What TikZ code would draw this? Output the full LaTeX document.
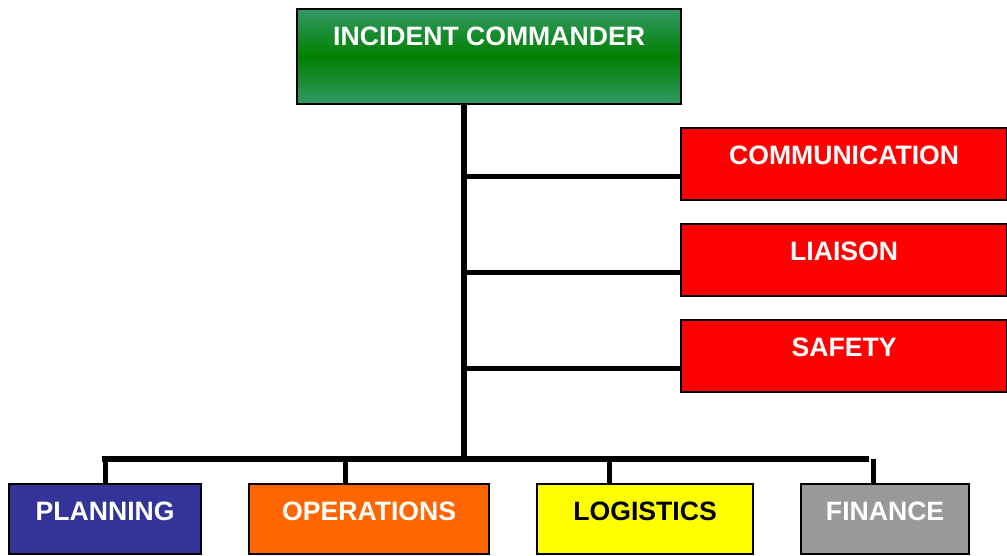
\documentclass[tikz,border=0pt]{standalone}
\usepackage{fontspec}
\setmainfont{Liberation Sans}
\definecolor{icedge}{RGB}{51,153,102}
\definecolor{icmid}{RGB}{0,128,0}
\definecolor{planblue}{RGB}{51,51,153}
\definecolor{opsorange}{RGB}{255,102,0}
\definecolor{logyellow}{RGB}{255,255,0}
\definecolor{fingray}{RGB}{153,153,153}
\begin{document}
\begin{tikzpicture}[x=1pt,y=-1pt,
  box/.style={draw=black, line width=2.2pt, anchor=north west, inner sep=0pt,
    text height=36pt, font=\fontsize{26.6}{30}\selectfont\bfseries, text=white},
  redbox/.style={box, fill=red, minimum width=326pt, text depth=36pt},
  botbox/.style={box, text depth=34pt},
  conn/.style={line width=5.2pt, black}]
\useasboundingbox (0,0) rectangle (1007,555);
\node[box, minimum width=384pt, text depth=59pt, top color=icedge, bottom color=icedge, middle color=icmid] (ic) at (296,8) {INCIDENT COMMANDER};
\node[redbox] (comm) at (680,127) {COMMUNICATION};
\node[redbox] (liai) at (680,223) {LIAISON};
\node[redbox] (safe) at (680,319) {SAFETY};
\node[botbox, fill=planblue, minimum width=192pt] (plan) at (8,483) {PLANNING};
\node[botbox, fill=opsorange, minimum width=240pt] (ops) at (248,483) {OPERATIONS};
\node[botbox, fill=logyellow, minimum width=216pt, text=black] (log) at (536,483) {LOGISTICS};
\node[botbox, fill=fingray, minimum width=168pt] (fin) at (800,483) {FINANCE};
\coordinate (tb) at (464,461.5);
\coordinate (busL) at (101.5,459);
\coordinate (busR) at (869,459);
\draw[conn] (ic.south -| tb) -- (tb);
\draw[conn] ([yshift=-12pt]comm.west) -- ([yshift=-12pt]comm.west -| tb);
\draw[conn] ([yshift=-12pt]liai.west) -- ([yshift=-12pt]liai.west -| tb);
\draw[conn] ([yshift=-12pt]safe.west) -- ([yshift=-12pt]safe.west -| tb);
\draw[conn] (busL) -- (busR);
\draw[conn] (plan.north) -- (plan.north |- 0,456.5);
\draw[conn] ([xshift=-24pt]ops.north) -- ([xshift=-24pt]ops.north |- busL);
\draw[conn] ([xshift=-36pt]log.north) -- ([xshift=-36pt]log.north |- busL);
\draw[conn] ([xshift=-12pt]fin.north) -- ([xshift=-12pt]fin.north |- busL);
\end{tikzpicture}
\end{document}
